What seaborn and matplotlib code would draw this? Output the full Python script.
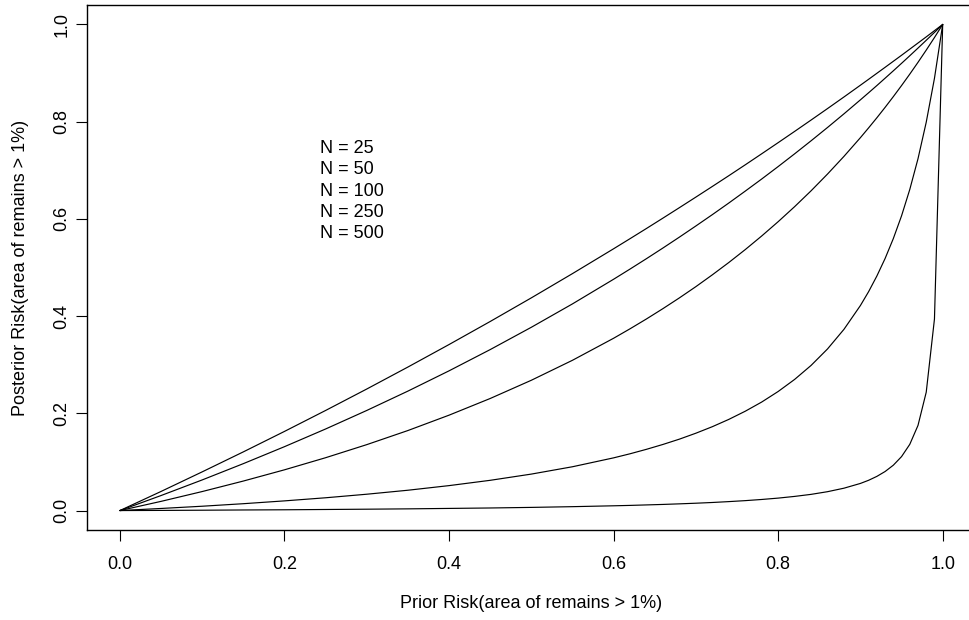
import matplotlib
matplotlib.use("Agg")
import matplotlib.pyplot as plt
import seaborn as sns
import pandas as pd

prior = [0.00, 0.05, 0.10, 0.15, 0.20, 0.25, 0.30, 0.35, 0.40, 0.45, 0.50, 0.55,
         0.60, 0.62, 0.64, 0.66, 0.68, 0.70, 0.72, 0.74, 0.76, 0.78, 0.80,
         0.82, 0.84, 0.86, 0.88, 0.90,
         0.91, 0.92, 0.93, 0.94, 0.95, 0.96, 0.97, 0.98, 0.99, 1.00]

post_n25 = [0.000, 0.0393, 0.0796, 0.1207, 0.1628, 0.2059, 0.2500, 0.2952, 0.3415,
            0.3889, 0.4375, 0.4874,
            0.5385, 0.5593, 0.5803, 0.6016, 0.6231, 0.6448, 0.6667, 0.6888, 0.7112,
            0.7339, 0.7568,
            0.7799, 0.8033, 0.8269, 0.8508, 0.8750,
            0.8872, 0.8995, 0.9118, 0.9242, 0.9366, 0.9492, 0.9618, 0.9744, 0.9872, 1.000]
post_n50 = [0.000, 0.0309, 0.0630, 0.0965, 0.1314, 0.1678, 0.2059, 0.2457, 0.2874,
            0.3311, 0.3770, 0.4251,
            0.4758, 0.4968, 0.5182, 0.5401, 0.5625, 0.5854, 0.6087, 0.6326, 0.6571,
            0.6820, 0.7076,
            0.7338, 0.7606, 0.7880, 0.8161, 0.8449,
            0.8595, 0.8743, 0.8894, 0.9046, 0.9200, 0.9356, 0.9514, 0.9674, 0.9836, 1.000]
post_n100 = [0.000, 0.0189, 0.0391, 0.0607, 0.0838, 0.1087, 0.1356, 0.1646, 0.1962,
             0.2305, 0.2680, 0.3091,
             0.3544, 0.3739, 0.3942, 0.4154, 0.4375, 0.4606, 0.4849, 0.5102, 0.5368,
             0.5648, 0.5942,
             0.6251, 0.6577, 0.6922, 0.7286, 0.7671,
             0.7873, 0.8080, 0.8294, 0.8515, 0.8743, 0.8978, 0.9221, 0.9472, 0.9731, 1.000]
post_n250 = [0.000, 0.0043, 0.0089, 0.0141, 0.0199, 0.0263, 0.0336, 0.0418, 0.0513,
             0.0622, 0.0750, 0.0901,
             0.1084, 0.1168, 0.1260, 0.1360, 0.1469, 0.1591, 0.1725, 0.1875, 0.2043,
             0.2232, 0.2449,
             0.2697, 0.2985, 0.3324, 0.3728, 0.4218,
             0.4504, 0.4825, 0.5185, 0.5595, 0.6063, 0.6605, 0.7238, 0.7989, 0.8892, 1.000]
post_n500 = [0.000, 0.0003, 0.0007, 0.0012, 0.0016, 0.0022, 0.0028, 0.0035, 0.0044,
             0.0053, 0.0065, 0.0080,
             0.0098, 0.0106, 0.0116, 0.0126, 0.0138, 0.0151, 0.0166, 0.0184, 0.0204,
             0.0228, 0.0256,
             0.0291, 0.0333, 0.0388, 0.0460, 0.0558,
             0.0623, 0.0703, 0.0803, 0.0933, 0.1110, 0.1362, 0.1752, 0.2435, 0.3941, 1.000]

sample_sizes = [25, 50, 100, 250, 500]
legend_labels = ["N = 25", "N = 50", "N = 100", "N = 250", "N = 500"]
x_ticks = [0.0, 0.2, 0.4, 0.6, 0.8, 1.0]
y_ticks = [0.0, 0.2, 0.4, 0.6, 0.8, 1.0]

series = [post_n25, post_n50, post_n100, post_n250, post_n500]
rows = []
for n, ys in zip(sample_sizes, series):
    for x, y in zip(prior, ys):
        rows.append({"N": n, "prior": x, "posterior": y})
df = pd.DataFrame(rows)

sns.set_theme(style="white")
plt.rcParams["font.family"] = ["Liberation Sans", "DejaVu Sans"]

W, H = 969, 620
fig = plt.figure(figsize=(W / 100, H / 100), dpi=100)
left_px, right_px, top_px, bottom_px = 87, 975.6, 5, 530
ax = fig.add_axes([left_px / W, 1 - bottom_px / H,
                   (right_px - left_px) / W, (bottom_px - top_px) / H])

sns.lineplot(data=df, x="prior", y="posterior", units="N", estimator=None,
             color="black", linewidth=0.85, ax=ax, legend=False, sort=False)

ax.set_xlim(-0.04, 1.04)
ax.set_ylim(-0.04, 1.04)
ax.set_xticks(x_ticks)
ax.set_yticks(y_ticks)
ax.set_xticklabels([f"{t:.1f}" for t in x_ticks])
ax.set_yticklabels([f"{t:.1f}" for t in y_ticks], rotation=90, va="center")
ax.tick_params(axis="both", direction="out", length=8, width=0.8,
               colors="black", labelsize=13, bottom=True, left=True)
ax.tick_params(axis="x", pad=11)
ax.tick_params(axis="y", pad=4)
for s in ax.spines.values():
    s.set_visible(True)
    s.set_color("black")
    s.set_linewidth(1.0)
ax.spines["right"].set_visible(False)
ax.set_xlabel("")
ax.set_ylabel("")
ax.grid(False)

text_y = [0.745, 0.701, 0.657, 0.613, 0.570]
for lab, ty in zip(legend_labels, text_y):
    ax.text(0.2436, ty, lab, ha="left", va="center", fontsize=13, color="black")

fig.text(531 / W, 1 - 604 / H, "Prior Risk(area of remains > 1%)",
         ha="center", va="center", fontsize=13, color="black")
fig.text(21 / W, 1 - 267.5 / H, "Posterior Risk(area of remains > 1%)",
         ha="center", va="center", rotation=90, fontsize=13, color="black")

fig.savefig("out.png", dpi=100, facecolor="white")
